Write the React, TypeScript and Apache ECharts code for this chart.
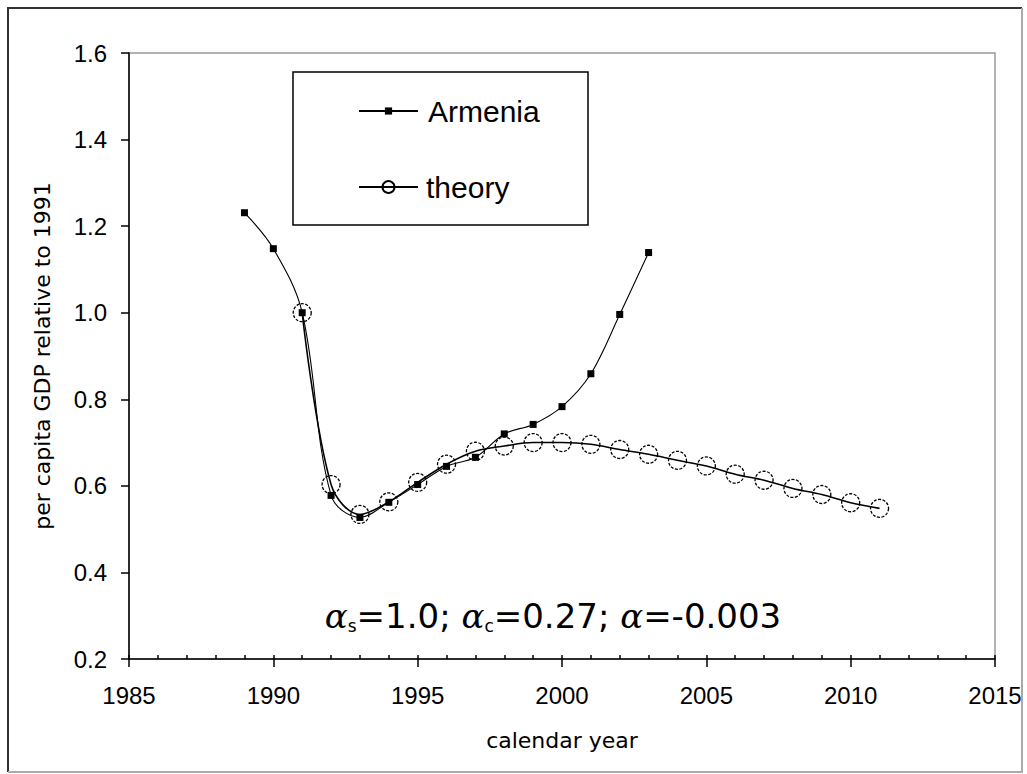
import React, { useEffect, useRef } from "react";
import * as echarts from "echarts";

// ---- data ----
const armeniaYears = [1989, 1990, 1991, 1992, 1993, 1994, 1995, 1996, 1997, 1998, 1999, 2000, 2001, 2002, 2003];
const armeniaValues = [1.231, 1.148, 1.0, 0.578, 0.527, 0.562, 0.603, 0.645, 0.666, 0.72, 0.742, 0.783, 0.859, 0.996, 1.139];

const theoryYears = [1991, 1992, 1993, 1994, 1995, 1996, 1997, 1998, 1999, 2000, 2001, 2002, 2003, 2004, 2005, 2006, 2007, 2008, 2009, 2010, 2011];
const theoryValues = [1.0, 0.603, 0.534, 0.563, 0.608, 0.65, 0.68, 0.692, 0.7, 0.7, 0.696, 0.684, 0.673, 0.659, 0.646, 0.627, 0.613, 0.594, 0.58, 0.561, 0.548];

const xMin = 1985;
const xMax = 2015;
const xMajorStep = 5;
const xMinorStep = 1;
const yMin = 0.2;
const yMax = 1.6;
const yStep = 0.2;

const xTitle = "calendar year";
const yTitle = "per capita GDP relative to 1991";
const seriesNames = ["Armenia", "theory"];
const annotation = "{a|α}{s|s}{t|=1.0; }{a|α}{s|c}{t|=0.27; }{a|α}{t|=-0.003}";

const tickFont = "Liberation Sans, Arial, sans-serif";

export default function App() {
  const ref = useRef<HTMLDivElement>(null);

  useEffect(() => {
    if (!ref.current) return;
    const chart = echarts.init(ref.current, undefined, { renderer: "svg" });

    const option: any = {
      animation: false,
      backgroundColor: "#ffffff",
      grid: {
        left: 129,
        top: 53,
        width: 866,
        height: 606,
        show: true,
        borderColor: "#9a9a9a",
        borderWidth: 1.5,
        backgroundColor: "transparent",
      },
      xAxis: [
        {
          type: "value",
          min: xMin,
          max: xMax,
          interval: xMajorStep,
          position: "bottom",
          axisLine: { show: true, onZero: false, lineStyle: { color: "#000", width: 1.5 } },
          axisTick: { show: true, inside: false, length: 8, lineStyle: { color: "#000", width: 1.5 } },
          axisLabel: {
            color: "#000",
            fontFamily: tickFont,
            fontSize: 24,
            margin: 24,
            formatter: (v: number) => String(v),
          },
          splitLine: { show: false },
          name: xTitle,
          nameLocation: "middle",
          nameGap: 70,
          nameTextStyle: { fontFamily: "DejaVu Sans", fontSize: 22, color: "#000" },
        },
        {
          type: "value",
          min: xMin,
          max: xMax,
          interval: xMinorStep,
          position: "bottom",
          axisLine: { show: false, onZero: false },
          axisTick: { show: true, inside: true, length: 4, lineStyle: { color: "#000", width: 1.5 } },
          axisLabel: { show: false },
          splitLine: { show: false },
        },
      ],
      yAxis: {
        type: "value",
        min: yMin,
        max: yMax,
        interval: yStep,
        axisLine: { show: true, onZero: false, lineStyle: { color: "#000", width: 1.5 } },
        axisTick: { show: true, inside: false, length: 8, lineStyle: { color: "#000", width: 1.5 } },
        axisLabel: {
          color: "#000",
          fontFamily: tickFont,
          fontSize: 24,
          margin: 22,
          formatter: (v: number) => v.toFixed(1),
        },
        splitLine: { show: false },
        name: yTitle,
        nameLocation: "middle",
        nameRotate: 90,
        nameGap: 76,
        nameTextStyle: { fontFamily: "DejaVu Sans", fontSize: 22, color: "#000" },
      },
      legend: [
        {
          data: [seriesNames[0]],
          left: 358,
          top: 96,
          orient: "vertical",
          itemWidth: 59,
          itemHeight: 9,
          selectedMode: false,
          padding: 0,
          textStyle: { fontFamily: tickFont, fontSize: 30, color: "#000", padding: [0, 0, 0, 5] },
        },
        {
          data: [seriesNames[1]],
          left: 358,
          top: 172,
          orient: "vertical",
          itemWidth: 59,
          itemHeight: 15,
          selectedMode: false,
          padding: 0,
          textStyle: { fontFamily: tickFont, fontSize: 30, color: "#000", padding: [0, 0, 0, 3] },
        },
      ],
      series: [
        {
          name: seriesNames[1],
          type: "line",
          xAxisIndex: 0,
          data: theoryYears.map((y, i) => [y, theoryValues[i]]),
          smooth: 0.35,
          symbol: "circle",
          symbolSize: 18,
          itemStyle: { color: "rgba(0,0,0,0)", borderColor: "#000", borderWidth: 1.3, borderType: [3, 1.5] },
          lineStyle: { color: "#000", width: 1.6 },
          z: 2,
        },
        {
          name: seriesNames[0],
          type: "line",
          xAxisIndex: 0,
          data: armeniaYears.map((y, i) => [y, armeniaValues[i]]),
          smooth: 0.35,
          symbol: "rect",
          symbolSize: 7,
          itemStyle: { color: "#000" },
          lineStyle: { color: "#000", width: 1.1 },
          z: 3,
        },
      ],
      graphic: [
        {
          type: "polyline",
          silent: true,
          shape: { points: [[8, 772], [8, 8], [1022, 8]] },
          style: { stroke: "#333", lineWidth: 2, fill: "none" },
        },
        {
          type: "polyline",
          silent: true,
          shape: { points: [[1022, 8], [1022, 772], [8, 772]] },
          style: { stroke: "#aaa", lineWidth: 2, fill: "none" },
        },
        {
          type: "rect",
          silent: true,
          shape: { x: 293, y: 72, width: 295, height: 153 },
          style: { fill: "none", stroke: "#000", lineWidth: 1.5 },
        },
        {
          type: "text",
          silent: true,
          x: 553,
          y: 616,
          style: {
            text: annotation,
            align: "center",
            verticalAlign: "middle",
            rich: {
              a: { fontFamily: "DejaVu Serif", fontStyle: "italic", fontSize: 34, lineHeight: 36, fill: "#000" },
              s: { fontFamily: "DejaVu Sans", fontSize: 17, lineHeight: 18, verticalAlign: "bottom", fill: "#000" },
              t: { fontFamily: "DejaVu Sans", fontSize: 34, lineHeight: 36, fill: "#000" },
            },
          },
        },
      ],
    };

    chart.setOption(option);
    return () => chart.dispose();
  }, []);

  return (
    <div
      ref={ref}
      style={{ position: "fixed", left: 0, top: 0, width: 1027, height: 774, background: "#fff" }}
    />
  );
}
